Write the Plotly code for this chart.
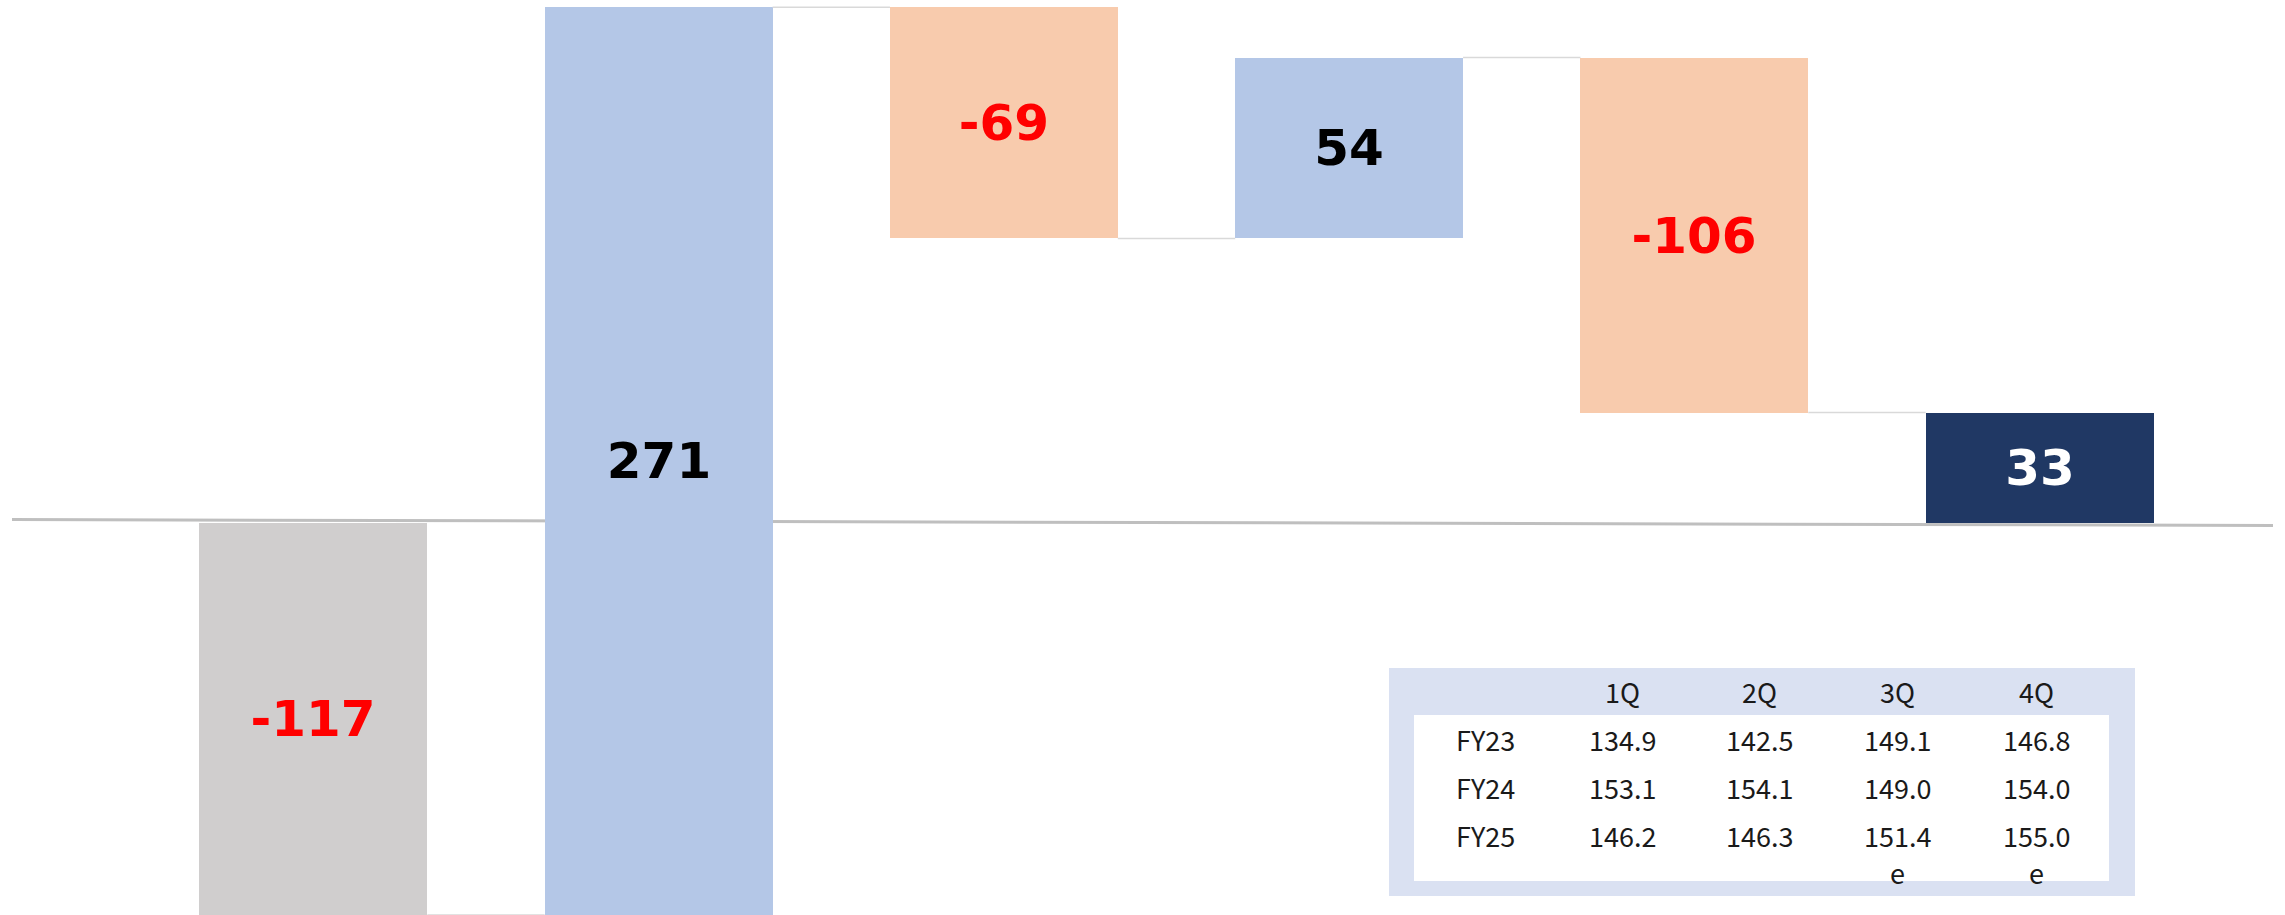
import plotly.graph_objects as go

# ---------------- data ----------------
steps = [0, 1, 2, 3, 4, 5]
values = [-117, 271, -69, 54, -106, 33]
measures = ["relative", "relative", "relative", "relative", "relative", "total"]
bar_colors = ["#D0CECE", "#B4C7E7", "#F8CBAD", "#B4C7E7", "#F8CBAD", "#203864"]
label_colors = ["#FF0000", "#000000", "#FF0000", "#000000", "#FF0000", "#FFFFFF"]

table_cols = ["1Q", "2Q", "3Q", "4Q"]
table_rows = ["FY23", "FY24", "FY25"]
fy23 = ["134.9", "142.5", "149.1", "146.8"]
fy24 = ["153.1", "154.1", "149.0", "154.0"]
fy25 = ["146.2", "146.3", "151.4e", "155.0e"]
table_vals = [fy23, fy24, fy25]

# ---------------- waterfall geometry from data ----------------
bases, heights, levels = [], [], []
cum = 0
for v, m in zip(values, measures):
    if m == "total":
        bases.append(0)
        heights.append(v)
        cum = v
    else:
        bases.append(cum)
        heights.append(v)
        cum += v
    levels.append(cum)

BAR_W = 0.66
W, H = 2285, 915
ML, MR = 12, 12

fig = go.Figure()

# connectors
cx, cy = [], []
for i in range(len(steps) - 1):
    cx += [steps[i] + BAR_W / 2, steps[i + 1] - BAR_W / 2, None]
    cy += [levels[i], levels[i], None]
fig.add_trace(go.Scatter(x=cx, y=cy, mode="lines",
                         line=dict(color="#D9D9D9", width=1.5),
                         hoverinfo="skip", showlegend=False))

fig.add_trace(go.Bar(
    x=steps, y=heights, base=bases, width=BAR_W,
    marker=dict(color=bar_colors, line=dict(width=0)),
    text=[str(v) for v in values],
    textposition="inside", insidetextanchor="middle", textangle=0,
    insidetextfont=dict(family="DejaVu Sans", size=50, color=label_colors, weight="bold"),
    constraintext="none",
    showlegend=False, hoverinfo="skip",
))

# ---------------- table (layout positions in pixels -> paper) ----------------
PW = W - ML - MR


def px(xp):
    return (xp - ML) / PW


def py(yp):
    return 1 - yp / H


shapes = [
    # baseline (slightly tilted as in the source image)
    dict(type="line", xref="paper", yref="paper",
         x0=0, x1=1, y0=py(519.5), y1=py(525.5),
         line=dict(color="#BFBFBF", width=3), layer="below"),
    dict(type="rect", xref="paper", yref="paper",
         x0=px(1389), x1=px(2135), y0=py(896), y1=py(668),
         fillcolor="#DAE1F2", line=dict(width=0), layer="above"),
    dict(type="rect", xref="paper", yref="paper",
         x0=px(1414), x1=px(2109), y0=py(881), y1=py(715),
         fillcolor="#FFFFFF", line=dict(width=0), layer="above"),
]

annotations = []
col_x = [1622, 1759, 1897, 2036]
row_label_x = 1485
header_y = 691
row_y = [739, 787, 835]
tfont = dict(family="Noto Sans CJK JP", size=27, color="#1a1a1a")

for cname, xx in zip(table_cols, col_x):
    annotations.append(dict(x=px(xx), y=py(header_y), xref="paper", yref="paper",
                            text=cname, showarrow=False, font=tfont,
                            xanchor="center", yanchor="middle"))
for rname, yy, vals in zip(table_rows, row_y, table_vals):
    annotations.append(dict(x=px(row_label_x), y=py(yy), xref="paper", yref="paper",
                            text=rname, showarrow=False, font=tfont,
                            xanchor="center", yanchor="middle"))
    for v, xx in zip(vals, col_x):
        num = v[:-1] if v.endswith("e") else v
        annotations.append(dict(x=px(xx), y=py(yy), xref="paper", yref="paper",
                                text=num, showarrow=False, font=tfont,
                                xanchor="center", yanchor="middle"))
        if v.endswith("e"):
            annotations.append(dict(x=px(xx), y=py(yy + 37), xref="paper", yref="paper",
                                    text="e", showarrow=False, font=tfont,
                                    xanchor="center", yanchor="middle"))

fig.update_layout(
    width=W, height=H,
    margin=dict(l=ML, r=MR, t=0, b=0, pad=0),
    paper_bgcolor="#FFFFFF", plot_bgcolor="rgba(0,0,0,0)",
    bargap=0,
    xaxis=dict(range=[-0.873, 5.676], showticklabels=False, showgrid=False,
               zeroline=False, showline=False, ticks=""),
    yaxis=dict(range=[-117, 156.2], showticklabels=False, showgrid=False,
               zeroline=False, showline=False, ticks=""),
    shapes=shapes,
    annotations=annotations,
    showlegend=False,
)

fig.write_html("out.html", post_script="document.body.style.margin='0';",
               config={"displayModeBar": False})
